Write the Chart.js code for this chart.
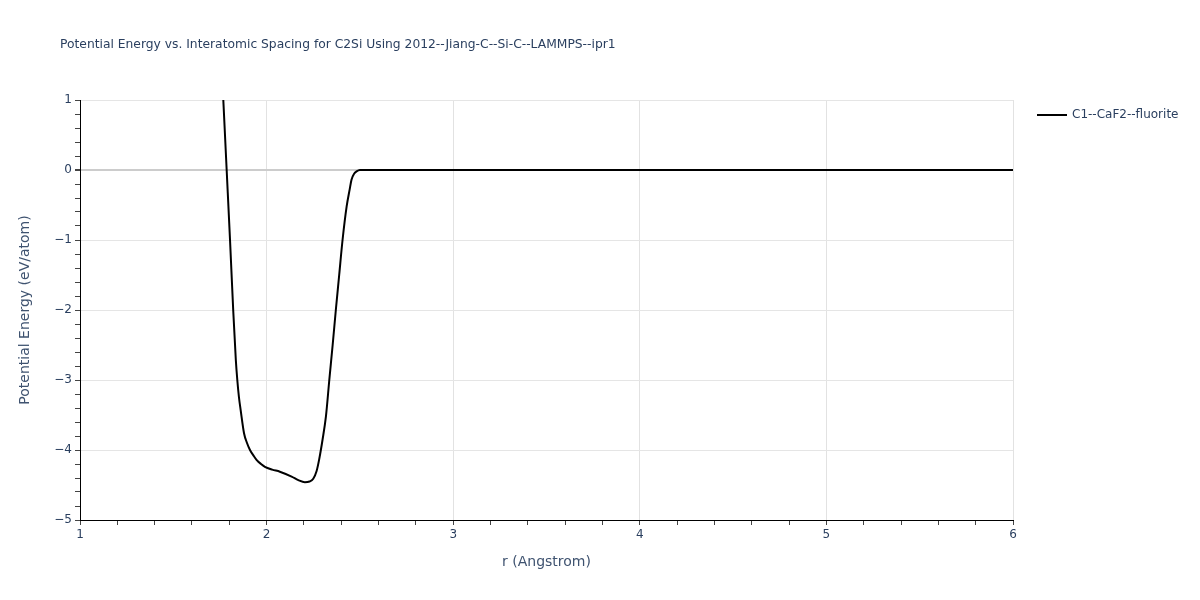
<!DOCTYPE html>
<html>
<head>
<meta charset="utf-8">
<script src="https://cdn.jsdelivr.net/npm/chart.js@4"></script>
<style>
  html, body { margin: 0; padding: 0; background: #fff; }
  #wrap { width: 1200px; height: 600px; }
</style>
</head>
<body>
<div id="wrap"><canvas id="chart"></canvas></div>
<script>
/* ==============================
   DATA
================================ */
const titleText = "Potential Energy vs. Interatomic Spacing for C2Si Using 2012--Jiang-C--Si-C--LAMMPS--ipr1";
const seriesName = "C1--CaF2--fluorite";

const spacing = [
    1.75, 1.768, 1.786, 1.804, 1.821, 1.835, 1.843, 1.852, 1.861, 1.879,
    1.895, 1.911, 1.93, 1.946, 1.97, 1.991, 2.03, 2.071, 2.134, 2.17,
    2.205, 2.23, 2.25, 2.268, 2.282, 2.3, 2.318, 2.336, 2.354, 2.371,
    2.389, 2.407, 2.429, 2.445, 2.455, 2.47, 2.482, 2.5,
    3.0, 3.5, 4.0, 4.5, 5.0, 5.5, 6.0
];
const energy = [
    2.0, 1.0, 0.0, -1.0, -2.0, -2.71, -3.0, -3.25, -3.43, -3.76,
    -3.9, -4.0, -4.08, -4.14, -4.2, -4.24, -4.28, -4.31, -4.38, -4.43,
    -4.46, -4.45, -4.41, -4.3, -4.13, -3.85, -3.52, -3.0, -2.5, -2.0,
    -1.5, -1.0, -0.52, -0.28, -0.14, -0.05, -0.02, 0.0,
    0.0, 0.0, 0.0, 0.0, 0.0, 0.0, 0.0
];

const xMin = 1, xMax = 6;
const yMin = -5, yMax = 1;
const minorStep = 0.2;

const FONT = "'DejaVu Sans', sans-serif";
const TEXT = "#2a3f5f";
const AXIS_TITLE = "#3f5370";

/* ==============================
   HELPERS
================================ */
const round1 = v => Math.round(v * 10) / 10;
const isMajor = v => Number.isInteger(round1(v));

function minorTicks(lo, hi) {
    const t = [];
    const n = Math.round((hi - lo) / minorStep);
    for (let i = 0; i <= n; i++) t.push({ value: round1(lo + i * minorStep) });
    return t;
}

/* ==============================
   TITLE + LEGEND PLUGIN
================================ */
const overlay = {
    id: "overlay",
    afterDraw(chart) {
        const ctx = chart.ctx;
        ctx.save();
        ctx.fillStyle = TEXT;
        ctx.textBaseline = "middle";
        ctx.font = "12.3px " + FONT;
        ctx.fillText(titleText, 60, 45);

        // legend
        ctx.strokeStyle = "#000";
        ctx.lineWidth = 2;
        ctx.beginPath();
        ctx.moveTo(1037, 115);
        ctx.lineTo(1067, 115);
        ctx.stroke();
        ctx.font = "12px " + FONT;
        ctx.fillText(seriesName, 1072, 115);
        ctx.restore();
    }
};

/* ==============================
   CHART
================================ */
new Chart(document.getElementById("chart"), {
    type: "scatter",
    data: {
        datasets: [{
            label: seriesName,
            data: spacing.map((r, i) => ({ x: r, y: energy[i] })),
            showLine: true,
            borderColor: "#000",
            borderWidth: 2,
            pointRadius: 0,
            cubicInterpolationMode: "monotone"
        }]
    },
    options: {
        responsive: true,
        maintainAspectRatio: false,
        animation: false,
        layout: { padding: { top: 100, right: 187, left: 0, bottom: 0 } },
        plugins: {
            legend: { display: false },
            title: { display: false },
            tooltip: { enabled: false }
        },
        scales: {
            x: {
                type: "linear",
                min: xMin,
                max: xMax,
                afterFit: s => { s.height = 80; },
                afterBuildTicks: s => { s.ticks = minorTicks(xMin, xMax); },
                ticks: {
                    color: TEXT,
                    font: { family: FONT, size: 12 },
                    padding: 3,
                    autoSkip: false,
                    maxRotation: 0,
                    callback: v => isMajor(v) ? String(round1(v)) : ""
                },
                grid: {
                    color: c => isMajor(c.tick.value) ? "#e2e2e2" : "rgba(0,0,0,0)",
                    tickColor: "#444",
                    tickLength: 5
                },
                border: { color: "#000", width: 1 },
                title: {
                    display: true,
                    text: "r (Angstrom)",
                    color: AXIS_TITLE,
                    font: { family: FONT, size: 14 },
                    padding: { top: 0, bottom: 29 }
                }
            },
            y: {
                min: yMin,
                max: yMax,
                afterFit: s => { s.width = 80; },
                afterBuildTicks: s => { s.ticks = minorTicks(yMin, yMax); },
                ticks: {
                    color: TEXT,
                    font: { family: FONT, size: 12 },
                    padding: 3,
                    autoSkip: false,
                    callback: v => {
                        if (!isMajor(v)) return "";
                        const r = round1(v);
                        return r < 0 ? "\u2212" + Math.abs(r) : String(r);
                    }
                },
                grid: {
                    color: c => {
                        const v = round1(c.tick.value);
                        if (!isMajor(v)) return "rgba(0,0,0,0)";
                        return v === 0 ? "#cccccc" : "#e5e5e5";
                    },
                    lineWidth: c => round1(c.tick.value) === 0 ? 2 : 1,
                    tickColor: "#444",
                    tickLength: 5
                },
                border: { color: "#000", width: 1 },
                title: {
                    display: true,
                    text: "Potential Energy (eV/atom)",
                    color: AXIS_TITLE,
                    font: { family: FONT, size: 14 },
                    padding: { top: 17, bottom: 0 }
                }
            }
        }
    },
    plugins: [overlay]
});
</script>
</body>
</html>
